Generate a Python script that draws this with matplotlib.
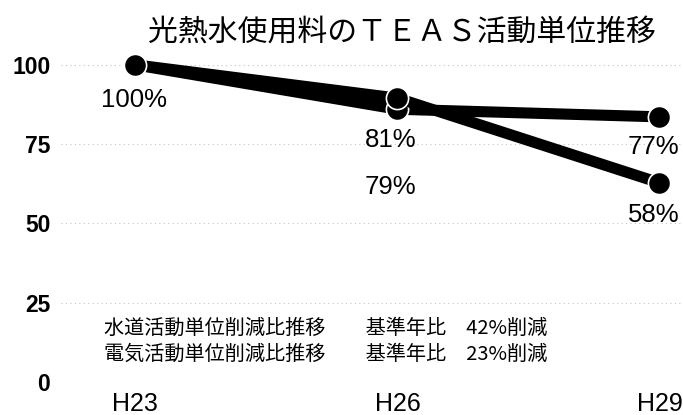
import matplotlib.pyplot as plt
import numpy as np

plt.rcParams['font.family'] = ['Liberation Sans', 'Noto Sans CJK JP', 'DejaVu Sans']

# data
years = ['H23', 'H26', 'H29']
water = [100, 89.5, 62.8]       # 水道活動単位
electric = [100, 86.0, 83.6]    # 電気活動単位
water_labels = ['100%', '81%', '58%']
electric_labels = ['', '79%', '77%']
yticks = [0, 25, 50, 75, 100]
title = '光熱水使用料のＴＥＡＳ活動単位推移'
notes = ['水道活動単位削減比推移　　基準年比　42%削減',
         '電気活動単位削減比推移　　基準年比　23%削減']

fig = plt.figure(figsize=(6.83, 4.15), dpi=100)
ax = fig.add_axes([0.09, 0.0795, 0.91, 0.8025])

x = np.arange(len(years))
for vals in (electric, water):
    ax.plot(x, vals, color='black', lw=8, solid_capstyle='round',
            solid_joinstyle='round', marker='o', ms=16,
            mfc='black', mec='white', mew=1.2, zorder=3)

# value labels (offsets in points from the marker)
w_off = [(-1, -25), (-5, -30), (-4, -23)]
e_off = [(0, 0), (-5, -56), (-4, -22)]
for i, lab in enumerate(water_labels):
    ax.annotate(lab, (x[i], water[i]), xytext=w_off[i],
                textcoords='offset points', ha='center', va='center',
                fontsize=18.5, zorder=4)
for i, lab in enumerate(electric_labels):
    if lab:
        ax.annotate(lab, (x[i], electric[i]), xytext=e_off[i],
                    textcoords='offset points', ha='center', va='center',
                    fontsize=18.5, zorder=4)

ax.set_xlim(-0.282, 2.09)
ax.set_ylim(0, 105)
ax.set_yticks(yticks)
ax.set_yticklabels([str(v) for v in yticks], fontsize=16.5, fontweight='bold')
ax.tick_params(axis='y', length=0, pad=8)
ax.set_xticks(x)
ax.set_xticklabels(years, fontsize=18, family=['Liberation Sans Narrow', 'Liberation Sans'])
ax.tick_params(axis='x', length=0, pad=7)
for s in ax.spines.values():
    s.set_visible(False)
ax.yaxis.grid(True, color='#c4c4c4', lw=0.8, ls=(0, (1, 3)))
ax.set_axisbelow(True)

fig.text(0.589, 0.922, title, ha='center', va='center', fontsize=21.5,
         family=['Noto Sans CJK JP', 'DejaVu Sans'])
fig.text(0.153, 0.21, notes[0], ha='left', va='center', fontsize=14.5,
         family=['Noto Sans CJK JP', 'DejaVu Sans'])
fig.text(0.153, 0.145, notes[1], ha='left', va='center', fontsize=14.5,
         family=['Noto Sans CJK JP', 'DejaVu Sans'])

fig.savefig('out.png', dpi=100)
